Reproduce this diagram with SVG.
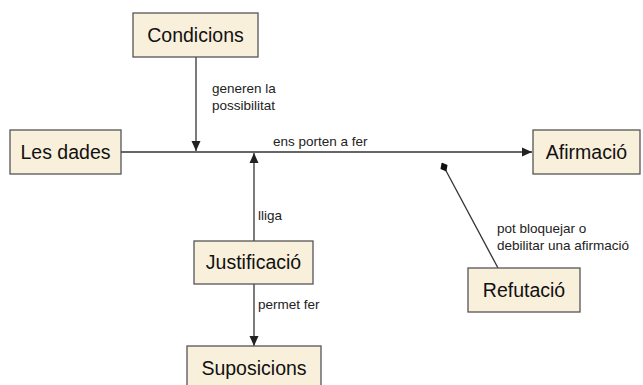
<svg xmlns="http://www.w3.org/2000/svg" width="643" height="385" viewBox="0 0 643 385">
<style>
.box{fill:#f9f0dc;stroke:#555;stroke-width:1.3}
.nt{font-family:"Liberation Sans",Arial,sans-serif;font-size:19.5px;fill:#111;text-anchor:middle}
.lt{font-family:"Liberation Sans",Arial,sans-serif;font-size:13.5px;fill:#222}
.ln{stroke:#333;stroke-width:1.3;fill:none}
</style>
<defs>
<marker id="arr" viewBox="0 0 10 10" refX="10" refY="5" markerWidth="10" markerHeight="10" markerUnits="userSpaceOnUse" orient="auto">
<path d="M0,0.5 L10,5 L0,9.5 Z" fill="#222"/>
</marker>
<marker id="dia" viewBox="0 0 10 10" refX="5" refY="5" markerWidth="10" markerHeight="10" markerUnits="userSpaceOnUse" orient="auto">
<path d="M0,5 L5,1 L10,5 L5,9 Z" fill="#111"/>
</marker>
</defs>
<rect width="643" height="385" fill="#fff"/>
<g id="connectors">
<line class="ln" x1="121" y1="152" x2="532" y2="152" marker-end="url(#arr)"/>
<line class="ln" x1="196" y1="57" x2="196" y2="151" marker-end="url(#arr)"/>
<line class="ln" x1="254" y1="241" x2="254" y2="153" marker-end="url(#arr)"/>
<line class="ln" x1="254" y1="284" x2="254" y2="346" marker-end="url(#arr)"/>
<line class="ln" x1="498" y1="268" x2="444" y2="167" marker-end="url(#dia)"/>
<text class="lt" x="212" y="93">generen la</text>
<text class="lt" x="212" y="110">possibilitat</text>
<text class="lt" x="273" y="146">ens porten a fer</text>
<text class="lt" x="258" y="220">lliga</text>
<text class="lt" x="258" y="309">permet fer</text>
<text class="lt" x="497" y="233">pot bloquejar o</text>
<text class="lt" x="497" y="250">debilitar una afirmació</text>
</g>
<g id="condicions"><rect class="box" x="133" y="13" width="125" height="44"/><text class="nt" x="195.5" y="42">Condicions</text></g>
<g id="les-dades"><rect class="box" x="10" y="130" width="111" height="44"/><text class="nt" x="65.5" y="159">Les dades</text></g>
<g id="afirmacio"><rect class="box" x="533" y="130" width="107" height="44"/><text class="nt" x="586.5" y="159">Afirmació</text></g>
<g id="refutacio"><rect class="box" x="468" y="268" width="112" height="44"/><text class="nt" x="524" y="297">Refutació</text></g>
<g id="justificacio"><rect class="box" x="194" y="241" width="119" height="43"/><text class="nt" x="253.5" y="269">Justificació</text></g>
<g id="suposicions"><rect class="box" x="187" y="346" width="134" height="44"/><text class="nt" x="254" y="375">Suposicions</text></g>
</svg>
